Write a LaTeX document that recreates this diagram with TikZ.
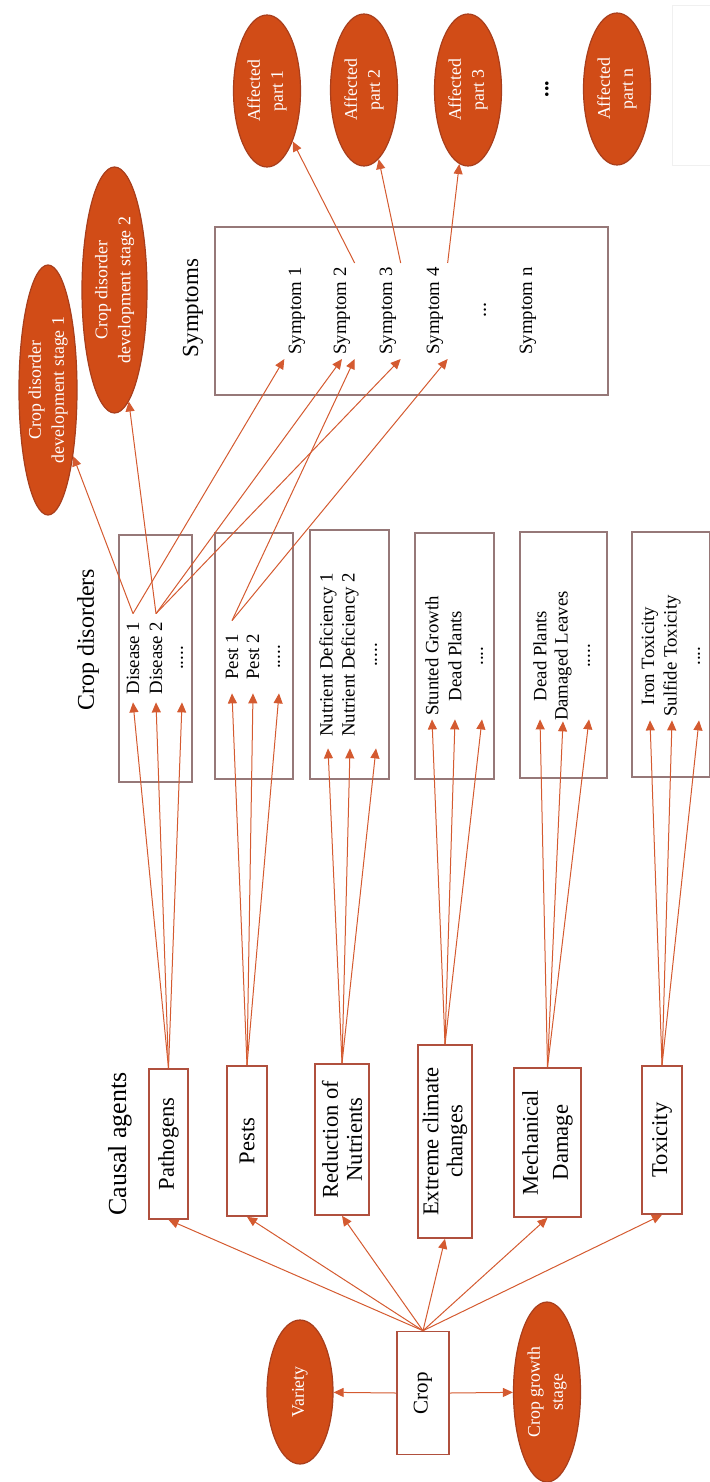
\documentclass[tikz,border=0pt]{standalone}
\usepackage{fontspec}
\setmainfont{Liberation Serif}
\usetikzlibrary{shapes.geometric, arrows.meta}

\definecolor{blobfill}{RGB}{209,76,23}
\definecolor{blobline}{RGB}{168,62,28}
\definecolor{linkred}{RGB}{212,90,48}
\definecolor{causeline}{RGB}{176,80,62}
\definecolor{boxline}{RGB}{150,120,120}

\begin{document}
\begin{tikzpicture}[
  x=0.5pt, y=-0.5pt,
  %--- style definitions ---
  cause/.style    = {rectangle, draw=causeline, line width=0.8pt, fill=white,
                     rotate=90, align=center, inner sep=0pt,
                     font=\fontsize{11.3}{12}\selectfont},
  groupbox/.style = {rectangle, draw=boxline, line width=0.8pt, inner sep=0pt},
  item/.style     = {rotate=90, inner sep=0pt, minimum width=#1,
                     font=\fontsize{9.4}{11}\selectfont},
  symtext/.style  = {rotate=90, inner sep=2pt, anchor=west,
                     font=\fontsize{9.4}{11}\selectfont},
  header/.style   = {rotate=90, inner sep=0pt, font=\fontsize{#1}{#1}\selectfont},
  blob/.style     = {ellipse, draw=blobline, line width=0.6pt, fill=blobfill,
                     rotate=90, inner sep=0pt, align=center, text=white,
                     font=\fontsize{8.9}{11.5}\selectfont},
  link/.style     = {-{Triangle[length=5pt,width=4.5pt]}, line width=0.5pt, draw=linkred},
]
\useasboundingbox (0,0) rectangle (709,1482);

%% ── CROP AND ITS ATTRIBUTES ────────────────────────────────────────────────
\node[cause, minimum width=61.5pt, minimum height=26pt,
      font=\fontsize{10.5}{12}\selectfont] (crop) at (423,1393) {Crop};
\node[blob, minimum width=72pt, minimum height=33pt] (variety) at (300,1392) {Variety};
\node[blob, minimum width=90pt, minimum height=33.5pt] (growth) at (547,1392) {Crop growth\\stage};

%% ── CAUSAL AGENTS ──────────────────────────────────────────────────────────
\node[header=13] (causelbl) at (120,1144) {Causal agents};
\node[cause, minimum width=75pt,   minimum height=19.5pt] (pathogens)  at (168.5,1144)  {Pathogens};
\node[cause, minimum width=75pt,   minimum height=20pt]   (pests)      at (247,1141)    {Pests};
\node[cause, minimum width=75.5pt, minimum height=27pt]   (reduction)  at (342,1139.5)  {Reduction of\\Nutrients};
\node[cause, minimum width=96.5pt, minimum height=27pt]   (extreme)    at (445,1141.5)  {Extreme climate\\changes};
\node[cause, minimum width=74.5pt, minimum height=33.5pt] (mechanical) at (547.5,1142.5){Mechanical\\[3pt]Damage};
\node[cause, minimum width=74pt,   minimum height=20pt]   (toxicity)   at (662,1140)    {Toxicity};

%% ── CROP DISORDERS ─────────────────────────────────────────────────────────
\node[header=12] (dislbl) at (88,640) {Crop disorders};

\node[groupbox, minimum width=36.5pt, minimum height=123.5pt] (disbox) at (155.5,658.5) {};
\node[item=44pt] (dis1) at (133,658) {Disease 1};
\node[item=44pt] (dis2) at (156,658) {Disease 2};
\node[item=44pt] (dis3) at (182,658) {.....};

\node[groupbox, minimum width=39pt, minimum height=123pt] (pestbox) at (254,656) {};
\node[item=36pt] (pest1) at (232,657) {Pest 1};
\node[item=36pt] (pest2) at (253,657) {Pest 2};
\node[item=36pt] (pest3) at (279,657) {.....};

\node[groupbox, minimum width=39.5pt, minimum height=124.5pt] (nutbox) at (349.5,654.5) {};
\node[item=93pt] (nut1) at (328,655) {Nutrient Deficiency 1};
\node[item=93pt] (nut2) at (350,655) {Nutrient Deficiency 2};
\node[item=93pt] (nut3) at (376,655) {.....};

\node[groupbox, minimum width=39.5pt, minimum height=123pt] (stuntbox) at (454.5,656) {};
\node[item=63pt] (stunt1) at (432,656) {Stunted Growth};
\node[item=63pt] (stunt2) at (455,656) {Dead Plants};
\node[item=63pt] (stunt3) at (482,656) {....};

\node[groupbox, minimum width=43.5pt, minimum height=123pt] (deadbox) at (563.5,655) {};
\node[item=63pt] (dead1) at (540,656) {Dead Plants};
\node[item=63pt] (dead2) at (563,656) {Damaged Leaves};
\node[item=63pt] (dead3) at (589,656) {.....};

\node[groupbox, minimum width=39pt, minimum height=122.5pt] (ironbox) at (671,654.5) {};
\node[item=64pt] (iron1) at (650,656) {Iron Toxicity};
\node[item=64pt] (iron2) at (672,656) {Sulfide Toxicity};
\node[item=64pt] (iron3) at (699,656) {....};

%% ── DEVELOPMENT STAGES ─────────────────────────────────────────────────────
\node[blob, minimum width=125pt, minimum height=29pt] (stage1) at (48,390)
      {Crop disorder\\development stage 1};
\node[blob, minimum width=123pt, minimum height=32.5pt] (stage2) at (114.5,290)
      {Crop disorder\\development stage 2};

%% ── SYMPTOMS ───────────────────────────────────────────────────────────────
\node[header=11.5] (symlbl) at (193,308) {Symptoms};
\node[groupbox, minimum width=196.5pt, minimum height=84pt] (symbox) at (411.5,311) {};
\node[symtext] (sym1) at (297,359) {Symptom 1};
\node[symtext] (sym2) at (342,359) {Symptom 2};
\node[symtext] (sym3) at (388,359) {Symptom 3};
\node[symtext] (sym4) at (435,359) {Symptom 4};
\node[rotate=90, inner sep=0pt, font=\fontsize{10}{10}\selectfont] (symdots) at (485,310) {...};
\node[symtext] (symn) at (528,359) {Symptom n};

%% ── AFFECTED PARTS ─────────────────────────────────────────────────────────
\node[blob, minimum width=76pt, minimum height=33.5pt] (aff1) at (267,91) {Affected\\part 1};
\node[blob, minimum width=76pt, minimum height=33.5pt] (aff2) at (364,90) {Affected\\part 2};
\node[blob, minimum width=76pt, minimum height=33.5pt] (aff3) at (468,90) {Affected\\part 3};
\node[rotate=90, inner sep=0pt, font=\fontsize{11}{11}\selectfont\bfseries] (affdots) at (547,89) {...};
\node[blob, minimum width=76pt, minimum height=33.5pt] (affn) at (617,89) {Affected\\part n};
\draw[gray!12, line width=0.5pt] (712,6) -- (672,6) -- (672,166) -- (712,166);

%% ── ARROWS ─────────────────────────────────────────────────────────────────
\draw[link] (crop.north) -- (variety);
\draw[link] (crop.south) -- (growth);

% crop -> every causal agent
\foreach \c in {pathogens,pests,reduction,extreme,mechanical,toxicity}
  \draw[link] (crop.east) -- (\c.west);

% causal agent -> its disorders
\foreach \i in {1,2,3} {
  \draw[link] (pathogens.east)  -- (dis\i.west);
  \draw[link] (pests.east)      -- (pest\i.west);
  \draw[link] (reduction.east)  -- (nut\i.west);
  \draw[link] (extreme.east)    -- (stunt\i.west);
  \draw[link] (mechanical.east) -- (dead\i.west);
  \draw[link] (toxicity.east)   -- (iron\i.west);
}

% disorders -> stages and symptoms
\draw[link] (dis1.east) -- (stage1);
\draw[link] (dis2.east) -- (stage2);
\draw[link] (dis1.east) -- (sym1.north west);
\draw[link] (dis2.east) -- (sym2.west);
\draw[link] (dis2.east) -- (sym3.south west);
\draw[link] (pest1.east) -- (sym2.south west);
\draw[link] (pest1.east) -- (sym4.south west);

% symptoms -> affected parts
\draw[link] (sym2.south east) -- (aff1);
\draw[link] (sym3.south east) -- (aff2);
\draw[link] (sym4.south east) -- (aff3);

\end{tikzpicture}
\end{document}
